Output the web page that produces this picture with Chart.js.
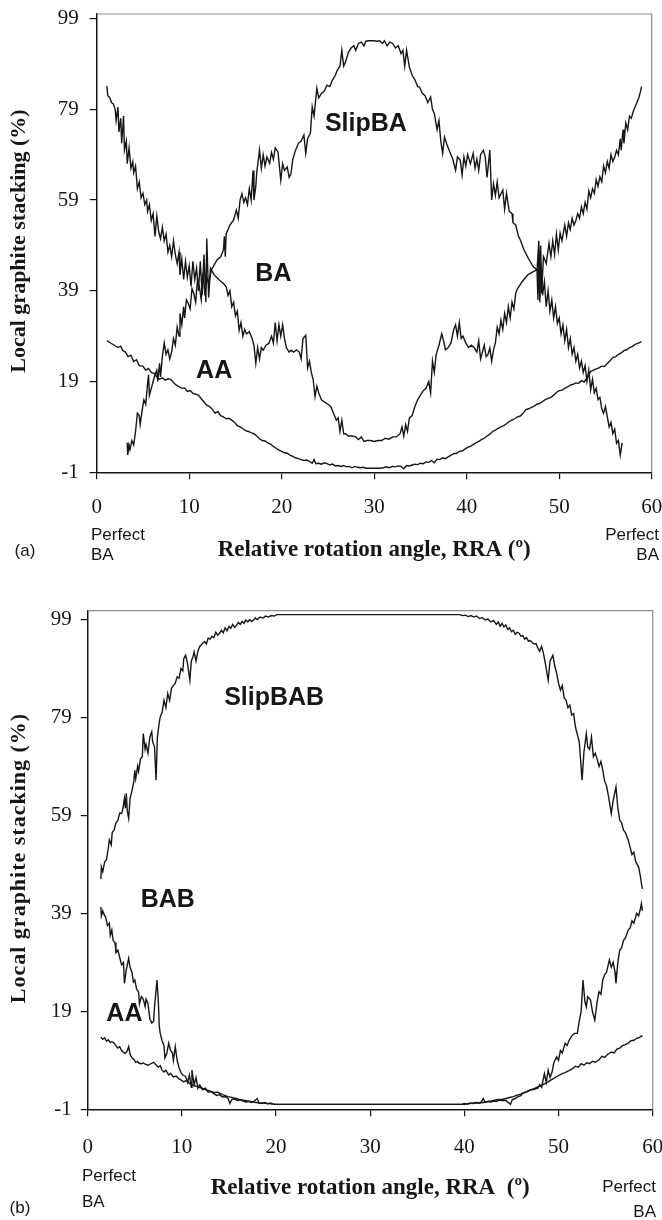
<!DOCTYPE html>
<html>
<head>
<meta charset="utf-8">
<script src="https://cdn.jsdelivr.net/npm/chart.js@4.4.1/dist/chart.umd.min.js"></script>
<style>
  html, body { margin: 0; padding: 0; background: #fff; }
  canvas { position: absolute; left: 0; }
  #chartA { top: 0; }
  #chartB { top: 600px; }
</style>
</head>
<body>
<canvas id="chartA" width="662" height="600"></canvas>
<canvas id="chartB" width="662" height="620"></canvas>
<script>
// ---- data -----------------------------------------------------------------
const X_TICKS = [0, 10, 20, 30, 40, 50, 60];
const Y_TICKS = [-1, 19, 39, 59, 79, 99];

// (a) [RRA, %]
const A_BA = [[1.1,84.1],[1.2,82.0],[1.4,81.6],[1.6,80.5],[1.8,80.2],[2.0,79.0],[2.1,76.5],[2.3,79.5],[2.4,74.0],[2.6,77.0],[2.7,71.5],[2.9,77.5],[3.0,70.0],[3.2,72.0],[3.3,67.0],[3.5,70.5],[3.7,66.0],[3.9,67.5],[4.0,65.0],[4.2,66.5],[4.4,61.5],[4.6,63.0],[4.8,59.5],[5.0,60.5],[5.2,58.0],[5.4,59.0],[5.5,56.5],[5.7,58.0],[5.9,54.5],[6.1,56.0],[6.3,51.0],[6.5,55.5],[6.7,52.0],[6.9,50.5],[7.1,53.0],[7.3,50.0],[7.5,51.5],[7.7,47.5],[7.9,49.0],[8.1,46.5],[8.3,50.0],[8.5,47.0],[8.7,45.0],[8.9,47.5],[9.0,42.5],[9.2,46.0],[9.4,41.5],[9.6,45.5],[9.8,42.0],[10.0,44.5],[10.2,40.0],[10.4,45.5],[10.6,41.5],[10.8,44.0],[11.0,39.0],[11.2,45.5],[11.4,38.0],[11.6,47.0],[11.8,36.5],[11.9,50.5],[12.1,37.5],[12.3,44.0],[12.7,42.5],[13.2,41.5],[13.7,40.6],[14.0,39.9],[14.2,38.0],[14.4,39.0],[14.6,35.5],[14.8,36.5],[15.0,33.5],[15.2,34.5],[15.4,30.3],[15.6,32.0],[15.8,29.0],[16.0,30.5],[16.2,29.5],[16.5,30.0],[16.8,28.5],[17.0,27.0],[17.2,23.0],[17.4,26.5],[17.6,24.0],[17.8,26.5],[18.0,25.9],[18.3,27.0],[18.6,27.4],[18.9,29.0],[19.1,27.5],[19.3,32.0],[19.5,28.0],[19.7,31.5],[19.9,29.0],[20.1,31.5],[20.3,28.5],[20.5,26.5],[20.8,25.5],[21.0,25.9],[21.3,25.5],[21.6,26.0],[21.9,25.5],[22.1,24.0],[22.3,28.5],[22.6,29.2],[22.8,22.0],[23.0,23.5],[23.2,21.0],[23.4,19.5],[23.6,15.7],[23.8,18.0],[24.0,16.5],[24.3,15.0],[24.6,14.5],[25.0,14.0],[25.3,13.5],[25.6,12.0],[25.9,10.5],[26.1,11.0],[26.3,8.0],[26.5,10.5],[26.7,7.5],[26.9,7.5],[27.2,7.0],[27.6,7.0],[28.0,6.8],[28.3,6.2],[28.6,6.8],[28.9,5.8],[29.2,6.0],[29.6,6.0],[30.0,5.8],[30.4,6.0],[30.8,6.0],[31.2,6.5],[31.6,6.3],[32.0,6.8],[32.4,6.8],[32.8,7.5],[33.0,9.0],[33.2,7.0],[33.4,9.5],[33.6,8.0],[33.8,11.0],[34.1,11.5],[34.4,13.5],[34.7,15.0],[35.0,16.0],[35.3,17.0],[35.6,17.5],[35.9,19.0],[36.1,16.5],[36.3,23.5],[36.5,21.0],[36.7,25.0],[37.0,27.0],[37.3,29.5],[37.5,28.0],[37.7,26.0],[38.0,26.5],[38.3,27.5],[38.6,30.5],[38.8,31.5],[39.0,29.0],[39.2,32.0],[39.4,28.5],[39.6,29.0],[39.9,27.5],[40.2,26.5],[40.5,27.0],[40.8,26.5],[41.1,25.5],[41.3,28.0],[41.5,24.0],[41.7,25.5],[41.9,27.0],[42.1,24.5],[42.3,25.0],[42.5,26.4],[42.7,23.5],[42.9,26.0],[43.1,27.5],[43.3,31.0],[43.5,29.5],[43.7,32.5],[43.9,30.5],[44.1,34.0],[44.3,32.0],[44.5,35.5],[44.7,33.0],[44.9,36.5],[45.1,35.0],[45.3,38.5],[45.5,39.5],[46.0,41.0],[46.6,42.5],[47.2,43.2],[47.6,43.6],[47.8,50.0],[47.9,37.5],[48.0,49.0],[48.1,38.5],[48.3,46.5],[48.6,45.0],[48.9,49.5],[49.1,46.5],[49.3,50.0],[49.5,47.0],[49.7,51.5],[49.9,48.0],[50.1,51.7],[50.3,50.0],[50.6,53.5],[50.8,51.0],[51.0,54.0],[51.2,52.5],[51.4,55.0],[51.6,53.5],[51.8,54.5],[52.0,56.0],[52.2,55.0],[52.4,57.5],[52.6,56.0],[52.8,58.5],[53.0,57.0],[53.2,61.0],[53.4,59.5],[53.6,61.5],[53.8,60.5],[54.0,63.5],[54.2,62.0],[54.4,64.1],[54.6,63.0],[54.8,66.5],[55.0,65.0],[55.2,67.5],[55.4,66.0],[55.6,69.0],[55.8,67.5],[56.0,68.5],[56.2,70.0],[56.4,69.0],[56.6,72.5],[56.7,70.0],[56.9,74.5],[57.0,71.5],[57.2,76.0],[57.4,74.5],[57.6,77.5],[57.8,77.0],[58.0,78.5],[58.2,79.5],[58.4,80.5],[58.6,81.5],[58.8,83.0],[58.9,84.0]];

const A_SLIPBA = [[3.3,5.5],[3.35,2.8],[3.5,5.0],[3.6,4.0],[3.8,6.0],[4.0,5.0],[4.2,8.0],[4.4,12.0],[4.6,11.5],[4.7,9.5],[4.9,12.5],[5.1,15.0],[5.3,14.0],[5.5,18.5],[5.6,20.5],[5.7,16.0],[5.9,17.5],[6.1,19.0],[6.3,20.5],[6.5,21.5],[6.6,19.0],[6.8,23.0],[6.9,20.0],[7.1,24.5],[7.3,27.5],[7.5,25.0],[7.7,26.0],[7.9,24.0],[8.1,25.5],[8.3,28.5],[8.5,27.0],[8.7,31.0],[8.9,29.0],[9.0,34.0],[9.2,31.5],[9.4,35.5],[9.5,33.0],[9.7,37.0],[9.9,36.2],[10.1,35.0],[10.3,39.5],[10.5,38.4],[10.7,36.5],[10.9,41.5],[11.1,39.9],[11.3,37.0],[11.5,43.0],[11.7,38.0],[11.9,42.0],[12.1,40.5],[12.4,43.6],[13.0,45.8],[13.4,46.5],[13.7,48.0],[13.8,51.0],[13.9,46.5],[14.0,51.6],[14.4,53.5],[14.8,54.6],[15.1,56.8],[15.3,55.0],[15.5,59.0],[15.7,60.4],[15.9,58.5],[16.1,59.5],[16.3,58.0],[16.5,61.5],[16.7,59.0],[16.9,65.5],[17.0,59.0],[17.2,62.0],[17.3,65.0],[17.6,70.0],[17.8,66.0],[18.0,69.0],[18.2,66.5],[18.4,68.5],[18.7,67.1],[18.9,69.5],[19.1,68.0],[19.3,70.5],[19.6,69.6],[19.9,63.4],[20.1,67.0],[20.3,65.5],[20.6,66.3],[20.8,64.0],[21.0,64.8],[21.2,68.0],[21.5,70.0],[21.8,71.5],[22.1,72.0],[22.4,73.3],[22.6,69.3],[22.8,72.5],[23.1,73.7],[23.3,79.5],[23.5,77.5],[23.8,83.6],[24.0,81.5],[24.3,82.5],[24.6,83.0],[24.9,84.3],[25.2,84.0],[25.5,85.5],[25.8,86.5],[26.0,87.6],[26.3,88.5],[26.5,92.0],[26.7,88.5],[26.9,89.4],[27.2,91.5],[27.5,92.5],[27.8,93.0],[28.0,92.0],[28.3,93.5],[28.6,93.8],[28.9,93.0],[29.1,94.0],[29.4,94.1],[29.7,94.1],[30.0,94.1],[30.3,94.0],[30.6,94.1],[30.9,93.5],[31.1,94.1],[31.4,93.0],[31.7,93.8],[32.0,93.5],[32.3,92.5],[32.6,93.0],[32.9,91.3],[33.1,92.0],[33.3,88.5],[33.5,92.0],[33.8,88.3],[34.1,86.5],[34.4,85.5],[34.7,84.0],[34.9,83.9],[35.2,82.5],[35.5,82.0],[35.8,80.5],[36.1,81.7],[36.3,79.0],[36.5,78.1],[36.8,74.5],[37.0,76.5],[37.2,72.0],[37.4,69.3],[37.6,72.9],[37.9,71.0],[38.2,69.5],[38.5,68.0],[38.8,65.6],[39.0,68.5],[39.3,67.8],[39.5,64.5],[39.7,68.5],[39.9,66.5],[40.1,69.0],[40.4,67.0],[40.7,69.3],[40.9,66.0],[41.1,68.0],[41.3,65.5],[41.5,69.0],[41.8,70.0],[42.0,68.5],[42.2,64.0],[42.5,70.0],[42.7,59.0],[42.9,62.6],[43.1,60.0],[43.3,63.0],[43.5,59.5],[43.9,61.2],[44.1,57.0],[44.3,60.5],[44.6,56.5],[44.9,56.0],[45.0,54.0],[45.3,53.5],[45.6,51.0],[45.8,50.2],[46.2,48.0],[46.7,46.0],[47.2,44.3],[47.6,43.6],[47.7,37.0],[47.8,48.0],[47.9,36.5],[48.0,45.0],[48.2,38.0],[48.4,41.0],[48.6,35.5],[48.8,39.0],[49.0,34.5],[49.2,37.0],[49.4,33.0],[49.6,35.5],[49.8,31.8],[50.0,33.0],[50.2,29.5],[50.4,31.5],[50.6,28.0],[50.8,30.5],[51.0,26.5],[51.2,28.5],[51.4,25.0],[51.6,26.5],[51.8,23.5],[52.0,25.0],[52.2,22.0],[52.4,23.5],[52.6,21.0],[52.8,22.5],[53.0,19.0],[53.2,21.5],[53.4,17.2],[53.6,19.5],[53.8,16.5],[54.0,17.5],[54.2,15.0],[54.4,15.5],[54.6,13.0],[54.8,12.0],[55.0,13.5],[55.2,11.2],[55.4,9.0],[55.6,10.0],[55.8,7.5],[56.0,8.5],[56.2,5.4],[56.4,6.0],[56.6,2.8],[56.8,5.5]];

const A_AA = [[1.1,28.0],[1.5,27.5],[1.9,27.0],[2.3,26.5],[2.6,26.8],[2.8,25.9],[3.1,25.5],[3.4,24.5],[3.7,24.8],[4.0,23.4],[4.3,23.8],[4.6,22.5],[5.0,22.4],[5.3,21.5],[5.6,21.9],[5.9,21.0],[6.2,20.8],[6.5,20.0],[6.8,19.5],[7.1,19.8],[7.4,19.3],[7.7,19.6],[8.0,19.5],[8.3,18.8],[8.6,18.2],[8.9,17.9],[9.2,17.5],[9.5,17.6],[9.8,16.8],[10.1,17.0],[10.4,16.4],[10.7,16.2],[11.0,16.0],[11.3,15.2],[11.6,14.5],[11.9,13.8],[12.2,13.5],[12.5,12.9],[12.8,12.0],[13.1,12.4],[13.4,11.5],[13.7,11.2],[14.0,10.8],[14.3,10.9],[14.6,10.5],[14.9,10.0],[15.2,9.3],[15.5,9.0],[15.8,8.6],[16.1,8.2],[16.4,8.0],[16.7,7.7],[17.0,7.5],[17.3,7.0],[17.6,6.4],[17.9,6.0],[18.2,5.9],[18.5,5.5],[18.8,5.2],[19.1,4.7],[19.4,4.3],[19.7,3.9],[20.0,3.6],[20.3,3.3],[20.6,3.2],[20.9,2.8],[21.2,2.5],[21.5,2.2],[21.8,2.0],[22.1,1.8],[22.4,1.6],[22.7,1.7],[23.0,1.4],[23.3,1.0],[23.5,1.8],[23.7,0.9],[24.0,1.0],[24.3,0.8],[24.6,1.1],[24.9,0.9],[25.2,0.6],[25.5,0.8],[25.8,0.4],[26.1,0.5],[26.4,0.3],[26.7,0.5],[27.0,0.2],[27.3,0.3],[27.6,0.0],[27.9,0.3],[28.2,0.1],[28.5,0.0],[28.8,0.1],[29.1,-0.1],[29.5,-0.1],[30.0,-0.1],[30.5,-0.1],[31.0,0.0],[31.3,0.2],[31.6,0.0],[32.0,0.3],[32.3,0.2],[32.6,0.4],[32.9,0.3],[33.2,-0.2],[33.5,0.5],[33.8,0.4],[34.1,0.6],[34.4,0.8],[34.7,0.7],[35.0,1.0],[35.3,0.9],[35.6,1.3],[35.9,1.2],[36.2,1.6],[36.5,1.1],[36.8,1.9],[37.1,1.8],[37.4,2.2],[37.7,2.0],[38.0,2.4],[38.3,2.8],[38.6,3.1],[38.9,3.2],[39.2,3.6],[39.5,3.7],[39.8,4.1],[40.1,4.5],[40.4,4.7],[40.7,5.1],[41.0,5.5],[41.3,5.8],[41.6,6.2],[41.9,6.5],[42.2,7.0],[42.5,7.4],[42.8,8.0],[43.1,8.3],[43.4,8.7],[43.7,9.0],[44.0,9.3],[44.3,9.7],[44.6,10.2],[44.9,10.5],[45.2,10.8],[45.5,11.2],[45.8,11.4],[46.1,12.0],[46.4,12.8],[46.7,13.0],[47.0,13.3],[47.3,13.6],[47.6,14.0],[47.9,14.2],[48.2,14.6],[48.5,15.0],[48.8,15.3],[49.1,15.5],[49.4,16.0],[49.7,16.6],[50.0,17.0],[50.3,17.1],[50.6,17.5],[50.9,17.8],[51.2,18.2],[51.5,18.4],[51.8,18.7],[52.1,18.6],[52.4,19.2],[52.7,18.9],[53.0,19.8],[53.2,20.5],[53.4,21.2],[53.7,21.5],[54.0,21.8],[54.3,22.0],[54.6,22.4],[54.9,22.3],[55.2,23.0],[55.5,23.6],[55.8,24.3],[56.1,24.5],[56.4,25.0],[56.7,25.3],[57.0,25.8],[57.3,26.0],[57.6,26.5],[57.9,26.7],[58.2,27.2],[58.5,27.4],[58.9,27.8]];

// (b) [RRA, %]
const B_SLIPBAB = [[1.4,46.0],[1.45,48.5],[1.6,47.5],[1.8,49.5],[2.0,50.0],[2.2,52.5],[2.3,54.0],[2.5,53.0],[2.6,55.5],[2.8,56.0],[3.0,57.5],[3.2,58.0],[3.4,59.5],[3.6,59.4],[3.7,60.0],[3.9,62.5],[4.0,60.5],[4.1,63.5],[4.2,60.0],[4.35,58.4],[4.5,62.5],[4.7,64.0],[4.9,66.0],[5.0,68.2],[5.1,66.5],[5.3,69.0],[5.4,68.0],[5.6,70.5],[5.8,71.0],[5.9,75.7],[6.1,72.5],[6.2,73.5],[6.4,71.7],[6.6,75.0],[6.8,76.1],[6.9,74.0],[7.1,73.0],[7.26,66.2],[7.4,75.0],[7.6,78.0],[7.7,79.1],[7.9,80.0],[8.1,82.5],[8.3,81.0],[8.5,83.9],[8.7,82.5],[8.9,85.0],[9.1,85.5],[9.3,86.0],[9.5,87.3],[9.7,87.0],[9.9,89.0],[10.1,88.5],[10.2,91.0],[10.4,91.7],[10.6,90.0],[10.85,86.6],[11.0,90.5],[11.2,91.5],[11.3,92.4],[11.5,90.5],[11.7,92.5],[11.9,93.5],[12.2,94.1],[12.4,94.5],[12.6,94.0],[12.8,95.2],[13.0,95.0],[13.2,95.6],[13.4,95.3],[13.6,96.4],[13.8,95.8],[14.0,96.2],[14.2,96.8],[14.4,96.3],[14.6,97.3],[14.8,96.7],[15.0,97.6],[15.2,97.2],[15.4,98.0],[15.6,97.4],[15.8,97.8],[16.0,98.4],[16.2,98.0],[16.4,98.6],[16.6,98.2],[16.8,98.9],[17.0,98.5],[17.2,99.0],[17.4,98.6],[17.6,98.9],[17.8,99.3],[18.0,99.0],[18.3,99.5],[18.6,99.3],[18.9,99.7],[19.2,99.5],[19.5,99.8],[19.8,99.7],[20.1,100],[20.5,100],[39.5,100],[39.8,99.8],[40.1,99.9],[40.4,99.6],[40.7,99.8],[41.0,99.5],[41.3,99.7],[41.6,99.2],[41.9,99.4],[42.2,98.9],[42.5,99.1],[42.8,98.5],[43.1,98.8],[43.4,98.0],[43.6,98.5],[43.8,97.6],[44.0,98.2],[44.2,97.5],[44.4,97.9],[44.6,97.0],[44.8,97.3],[45.0,96.5],[45.2,96.8],[45.4,96.0],[45.6,96.4],[45.8,96.2],[46.0,95.6],[46.2,95.7],[46.4,95.0],[46.6,95.3],[46.8,94.6],[47.0,94.7],[47.2,94.3],[47.4,94.0],[47.6,94.1],[47.8,93.2],[48.0,92.5],[48.2,93.5],[48.4,92.1],[48.6,90.0],[48.9,86.6],[49.1,90.5],[49.4,91.7],[49.6,89.5],[49.8,88.0],[50.0,86.0],[50.2,84.6],[50.4,85.5],[50.6,83.0],[50.8,82.5],[51.0,81.0],[51.2,81.5],[51.4,79.5],[51.6,79.8],[51.8,77.0],[52.0,75.5],[52.2,74.0],[52.5,66.2],[52.7,72.0],[52.95,75.7],[53.1,73.0],[53.3,72.5],[53.5,75.0],[53.7,71.0],[53.9,71.7],[54.1,70.5],[54.3,69.0],[54.5,70.0],[54.7,68.2],[54.9,66.0],[55.1,65.0],[55.3,63.0],[55.6,59.4],[55.8,62.0],[56.1,64.8],[56.3,60.5],[56.5,58.0],[56.7,57.5],[56.9,56.0],[57.1,55.5],[57.4,54.0],[57.6,52.5],[57.8,51.0],[58.0,51.5],[58.2,49.5],[58.3,49.2],[58.5,48.5],[58.7,46.5],[58.8,45.1],[58.9,44.0]];

const B_BAB = [[1.4,40.3],[1.45,38.5],[1.6,39.5],[1.8,38.5],[1.9,38.3],[2.1,36.5],[2.3,37.0],[2.4,34.5],[2.56,35.6],[2.7,33.5],[2.9,33.0],[3.0,31.0],[3.2,31.5],[3.4,30.0],[3.6,28.5],[3.8,29.0],[3.9,24.7],[4.1,27.5],[4.35,29.8],[4.5,28.0],[4.7,27.0],[4.85,25.0],[5.0,25.4],[5.2,23.5],[5.4,23.0],[5.5,20.5],[5.7,22.0],[5.9,21.5],[6.1,20.0],[6.2,21.5],[6.4,20.6],[6.5,19.0],[6.6,17.5],[6.8,16.6],[7.0,17.0],[7.1,20.0],[7.36,25.4],[7.5,21.0],[7.6,16.0],[7.7,14.5],[7.9,13.0],[8.1,12.0],[8.2,9.5],[8.4,10.4],[8.6,12.5],[8.8,11.0],[9.0,10.5],[9.1,9.0],[9.3,11.8],[9.5,9.0],[9.7,7.5],[9.9,6.5],[10.1,6.0],[10.4,5.7],[10.6,4.5],[10.8,6.0],[11.0,3.5],[11.07,7.0],[11.3,4.0],[11.5,5.5],[11.7,3.3],[11.9,4.0],[12.2,3.0],[12.5,3.3],[12.8,2.5],[13.1,2.6],[13.4,2.2],[13.7,1.8],[14.0,2.0],[14.3,1.5],[14.6,1.6],[14.9,1.2],[15.1,0.2],[15.3,1.0],[15.6,1.1],[15.9,0.8],[16.2,0.9],[16.5,0.7],[16.8,0.5],[17.1,0.6],[17.4,0.4],[17.6,0.55],[18.0,1.2],[18.2,0.3],[18.5,0.2],[18.8,0.4],[19.1,0.1],[19.4,0.3],[19.7,0.1],[20.0,0],[39.7,0],[40.0,0.2],[40.3,0.1],[40.6,0.3],[40.9,0.2],[41.2,0.4],[41.5,0.3],[41.8,0.5],[42.0,1.2],[42.2,0.4],[42.5,0.6],[42.8,0.5],[43.1,0.7],[43.4,0.6],[43.7,0.9],[44.0,0.8],[44.4,0.8],[44.9,0],[45.1,1.0],[45.4,1.2],[45.7,1.6],[46.0,1.8],[46.2,2.3],[46.5,2.5],[46.8,2.8],[47.1,3.0],[47.4,3.1],[47.8,3.3],[48.0,4.0],[48.2,3.5],[48.5,6.3],[48.7,4.5],[48.9,7.0],[49.1,5.5],[49.3,6.5],[49.5,8.5],[49.8,9.7],[50.0,9.0],[50.2,11.0],[50.4,10.5],[50.7,12.5],[50.9,12.0],[51.1,13.0],[51.4,14.0],[51.7,14.5],[52.0,14.5],[52.2,17.0],[52.4,19.0],[52.6,25.4],[52.8,21.0],[52.95,19.9],[53.1,22.0],[53.4,21.3],[53.6,19.0],[53.85,17.2],[54.1,21.0],[54.3,23.0],[54.5,22.5],[54.7,25.4],[54.9,26.5],[55.1,27.0],[55.4,29.5],[55.6,28.0],[55.8,29.0],[56.0,27.0],[56.1,24.7],[56.3,29.0],[56.5,31.5],[56.7,32.0],[56.9,33.5],[57.1,34.0],[57.4,35.6],[57.6,36.0],[57.8,37.5],[58.0,37.0],[58.3,39.0],[58.5,38.5],[58.7,40.0],[58.8,41.0],[58.9,39.5]];

const B_AA = [[1.4,13.7],[1.6,13.3],[1.8,13.6],[2.0,12.9],[2.2,13.2],[2.4,12.6],[2.6,12.8],[2.8,12.5],[3.0,12.0],[3.2,11.5],[3.4,11.8],[3.6,11.0],[3.8,10.6],[4.0,10.4],[4.2,10.9],[4.35,11.8],[4.5,10.2],[4.7,9.5],[4.9,9.2],[5.1,8.6],[5.3,8.8],[5.45,8.4],[5.7,8.3],[5.9,8.5],[6.1,8.2],[6.4,8.0],[6.7,8.3],[7.0,8.6],[7.3,8.0],[7.5,7.6],[7.7,7.9],[7.9,7.0],[8.1,6.6],[8.3,7.0],[8.6,6.0],[8.8,6.3],[9.1,5.6],[9.4,5.8],[9.7,5.2],[9.9,5.0],[10.2,4.6],[10.5,4.9],[10.8,4.3],[11.1,4.0],[11.4,3.8],[11.7,3.6],[12.0,3.4],[12.3,3.2],[12.6,2.9],[12.9,2.8],[13.2,2.6],[13.5,2.4],[13.8,2.5],[14.0,2.3],[14.3,2.0],[14.6,1.8],[14.9,1.6],[15.2,1.5],[15.5,1.3],[15.8,1.2],[16.1,1.0],[16.4,0.9],[16.7,0.8],[17.0,0.7],[17.3,0.6],[17.6,0.5],[17.9,0.4],[18.2,0.3],[18.5,0.3],[18.8,0.2],[19.1,0.2],[19.4,0.1],[19.8,0],[40.0,0],[40.4,0.1],[40.8,0.2],[41.2,0.3],[41.6,0.3],[42.0,0.4],[42.2,0.5],[42.5,0.6],[42.9,0.7],[43.3,0.9],[43.7,1.0],[44.0,1.0],[44.4,1.2],[44.8,1.4],[45.2,1.6],[45.6,1.9],[46.0,2.1],[46.4,2.4],[46.7,2.6],[47.0,2.9],[47.4,3.2],[47.8,3.6],[48.2,3.9],[48.5,4.2],[48.9,4.6],[49.2,5.0],[49.5,5.3],[49.8,5.7],[50.1,6.0],[50.4,6.3],[50.7,6.5],[51.0,6.8],[51.2,7.0],[51.5,7.3],[51.8,7.8],[52.1,7.6],[52.4,8.3],[52.7,8.0],[53.0,8.5],[53.3,8.3],[53.6,8.8],[53.9,8.6],[54.3,9.1],[54.6,9.8],[54.9,9.6],[55.2,10.2],[55.6,10.7],[55.9,10.5],[56.2,11.3],[56.5,11.5],[56.8,12.0],[57.1,12.2],[57.4,12.5],[57.7,13.0],[58.0,13.1],[58.3,13.5],[58.6,13.7],[58.8,14.0],[58.9,13.8]];

// ---- styling ---------------------------------------------------------------
const SERIF = '"Liberation Serif", "Times New Roman", serif';
const SANS  = '"Liberation Sans", Arial, sans-serif';
const INK   = '#161616';
const Y_TITLE = 'Local graphite stacking (%)';

function series(points) {
  return {
    data: points.map(([x, y]) => ({ x, y })),
    borderColor: INK, backgroundColor: 'transparent',
    borderWidth: 1.4, pointRadius: 0, tension: 0,
  };
}

// grey top/right frame, rotated y title and the free text of each panel
const notesPlugin = {
  id: 'notes',
  afterDraw(chart, args, opts) {
    const ctx = chart.ctx;
    const area = chart.chartArea;
    const xs = chart.scales.x, ys = chart.scales.y;
    ctx.save();
    ctx.strokeStyle = '#8c8c8c';
    ctx.lineWidth = 1.2;
    ctx.beginPath();
    ctx.moveTo(area.left, area.top);
    ctx.lineTo(area.right, area.top);
    ctx.lineTo(area.right, area.bottom);
    ctx.stroke();

    ctx.fillStyle = INK;
    ctx.textBaseline = 'middle';
    ctx.textAlign = 'center';

    // y title (panel b is letter-spaced)
    const t = opts.yTitle;
    ctx.save();
    ctx.font = 'bold 22px ' + SERIF;
    ctx.letterSpacing = t.spacing + 'px';
    ctx.translate(t.x, t.y);
    ctx.rotate(-Math.PI / 2);
    ctx.fillText(Y_TITLE, 0, 0);
    ctx.restore();

    for (const n of opts.items) {
      ctx.font = n.font;
      ctx.textAlign = n.align || 'center';
      const px = n.data ? xs.getPixelForValue(n.x) : n.x;
      const py = n.data ? ys.getPixelForValue(n.y) : n.y;
      ctx.fillText(n.text, px, py);
    }
    ctx.restore();
  }
};

function makePanel(canvasId, sets, geo, items, xTitle, yTitle) {
  return new Chart(document.getElementById(canvasId), {
    type: 'line',
    data: { datasets: sets.map(series) },
    options: {
      responsive: false,
      animation: false,
      devicePixelRatio: 1,
      layout: { padding: { top: geo.top, right: geo.right, left: 0, bottom: 0 } },
      plugins: {
        legend: { display: false },
        tooltip: { enabled: false },
        notes: { items, yTitle },
      },
      scales: {
        x: {
          type: 'linear', min: 0, max: 60,
          afterBuildTicks: s => { s.ticks = X_TICKS.map(v => ({ value: v })); },
          afterFit: s => { s.height = geo.xHeight; s.paddingLeft = 0; s.paddingRight = 0; },
          ticks: { font: { family: SERIF, size: 21 }, color: INK, padding: geo.xTickPad, maxRotation: 0, autoSkip: false },
          grid: { drawOnChartArea: false, tickLength: 7, color: INK, lineWidth: 1.2 },
          border: { color: INK, width: 1.5 },
          title: { display: true, text: xTitle, color: INK,
                   font: { family: SERIF, size: 23, weight: 'bold' }, padding: { top: 0, bottom: geo.xTitlePad } },
        },
        y: {
          type: 'linear', min: -1, max: geo.yMax,
          afterBuildTicks: s => { s.ticks = Y_TICKS.map(v => ({ value: v })); },
          afterFit: s => { s.width = geo.yWidth; s.paddingTop = 0; s.paddingBottom = 0; },
          ticks: { font: { family: SERIF, size: 21 }, color: INK, padding: geo.yTickPad },
          grid: { drawOnChartArea: false, tickLength: 7, color: INK, lineWidth: 1.2 },
          border: { color: INK, width: 1.5 },
        },
      },
    },
    plugins: [notesPlugin],
  });
}

const BIG   = 'bold 25px ' + SANS;
const SMALL = '17px ' + SANS;

makePanel('chartA', [A_BA, A_SLIPBA, A_AA],
  { top: 14, right: 10.3, yMax: 100, yWidth: 96.7, xHeight: 127.7, xTickPad: 16, xTitlePad: 36, yTickPad: 11 },
  [
    { text: 'SlipBA', x: 29.1, y: 75.7, data: true, font: BIG },
    { text: 'BA', x: 19.1, y: 42.6, data: true, font: BIG },
    { text: 'AA', x: 12.7, y: 21.2, data: true, font: BIG },
    { text: 'Perfect', x: 91, y: 535, align: 'left', font: SMALL },
    { text: 'BA', x: 91, y: 555, align: 'left', font: SMALL },
    { text: 'Perfect', x: 659, y: 535, align: 'right', font: SMALL },
    { text: 'BA', x: 659, y: 555, align: 'right', font: SMALL },
    { text: '(a)', x: 25, y: 551, font: SMALL },
  ],
  'Relative rotation angle, RRA (\u00ba)',
  { x: 19, y: 241, spacing: 0 });

makePanel('chartB', [B_SLIPBAB, B_BAB, B_AA],
  { top: 10.7, right: 9.3, yMax: 100.8, yWidth: 87.7, xHeight: 110.7, xTickPad: 19, xTitlePad: 18, yTickPad: 9 },
  [
    { text: 'SlipBAB', x: 19.8, y: 82.9, data: true, font: BIG },
    { text: 'BAB', x: 8.5, y: 41.7, data: true, font: BIG },
    { text: 'AA', x: 3.9, y: 18.4, data: true, font: BIG },
    { text: 'Perfect', x: 82, y: 576, align: 'left', font: SMALL },
    { text: 'BA', x: 82, y: 602, align: 'left', font: SMALL },
    { text: 'Perfect', x: 656, y: 587, align: 'right', font: SMALL },
    { text: 'BA', x: 656, y: 612, align: 'right', font: SMALL },
    { text: '(b)', x: 20, y: 608, font: SMALL },
  ],
  'Relative rotation angle, RRA  (\u00ba)',
  { x: 19, y: 258, spacing: 1 });
</script>
</body>
</html>
